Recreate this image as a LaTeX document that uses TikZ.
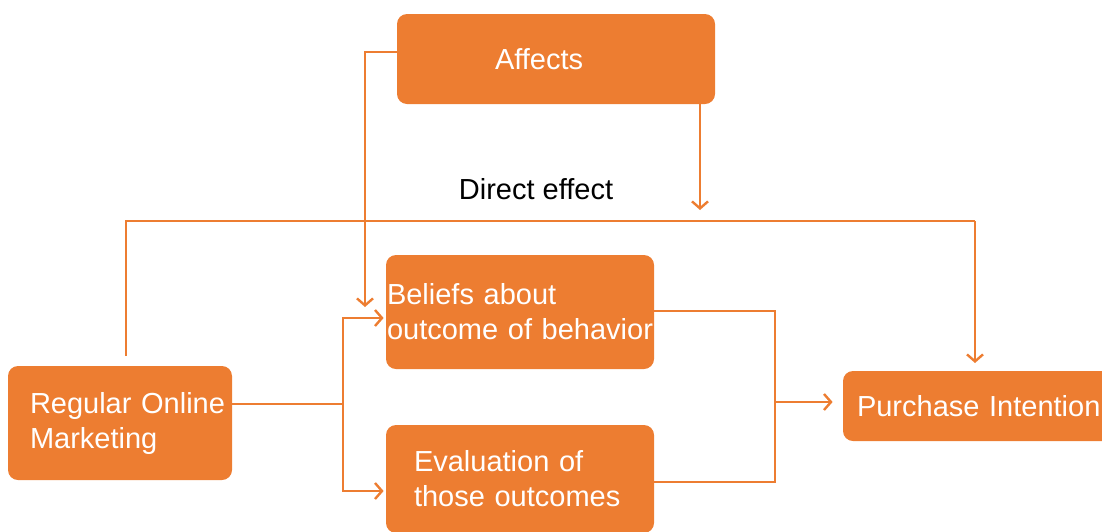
\documentclass[tikz,border=0pt]{standalone}
\usepackage{fontspec}
\setmainfont{Liberation Sans}
\usetikzlibrary{positioning,arrows.meta}
\definecolor{ofc}{HTML}{ED7D31}
\tikzset{
 box/.style
  = {rectangle, fill=ofc, rounded corners=5pt, text=white, align=left,
     inner ysep=0pt, minimum height=57pt},
 l/.style
  = {draw=ofc, line width=1.2pt},
 la/.style
  = {draw=ofc, line width=1.2pt, -{Straight Barb[length=3.5pt,width=8pt]}},
}

\begin{document}
\begin{tikzpicture}[x=0.5pt, y=-0.5pt, font=\fontsize{14.5}{17.5}\selectfont]
\clip (0,0) rectangle (1102,531);

% Affects
\node[box, text width=61pt, inner xsep=49pt, minimum height=45pt] (aff) at (556,59) {Affects};

% Beliefs and evaluation
\node[box, text width=133pt, inner xsep=0.5pt] (bel) at (520,312) {Beliefs about\\outcome of behavior};
\node[box, text width=106pt, inner xsep=14pt, minimum height=54pt] (eva) at (520,479) {Evaluation of\\those outcomes};

% Regular online marketing
\node[box, text width=90pt, inner xsep=11pt] (rom) at (120,423) {\mbox{Regular Online}\\Marketing};

% Purchase intention
\node[box, text width=122pt, inner xsep=7pt, minimum height=35pt] (pi) at (979,406) {Purchase Intention};

% Direct effect
\node (de) at (536,189) {Direct effect};
\coordinate (d0) at (126,356);
\coordinate (d1) at (975,221);
\coordinate (d2) at (975,363);
\draw[l] (d0) |- (d1);
\draw[la] (d1) -- (d2);

% Affects arrows
\coordinate (a1) at (365,307);
\coordinate (a2) at (700,210);
\draw[la] (aff.west |- 0,52) -| (a1);
\draw[la] (a2 |- aff.south) -- (a2);

% Fork
\coordinate (fk) at (343,404);
\draw[l] (rom.east |- fk) -- (fk);
\draw[la] (fk) |- ([xshift=-1pt]bel.west |- 0,318);
\draw[la] (fk) |- ([xshift=-1pt]eva.west |- 0,491);

% Merge
\coordinate (mg) at (775,402);
\draw[l] (bel.east |- 0,311) -| (mg |- 0,482) -- (eva.east |- 0,482);
\draw[l] (mg) -- (mg |- 0,311);
\draw[la] (mg) -- ([xshift=-5pt]pi.west |- mg);

\end{tikzpicture}
\end{document}
